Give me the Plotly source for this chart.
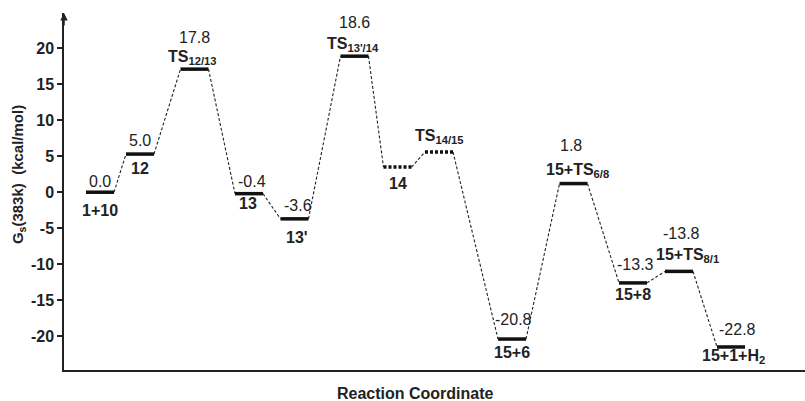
import plotly.graph_objects as go

# ---- data ----
reaction_coord = [36, 76, 130.5, 185, 230.5, 290.5, 333.5, 375, 448, 509.5, 569, 615, 667]
energy_drawn = [0.0, 5.3, 17.1, -0.2, -3.7, 18.9, 3.5, 5.6, -20.4, 1.2, -12.6, -11.0, -21.5]
value_labels = ["0.0", "5.0", "17.8", "-0.4", "-3.6", "18.6", "", "", "-20.8", "1.8", "-13.3", "-13.8", "-22.8"]
name_labels = ["1+10", "12", "TS<sub>12/13</sub>", "13", "13'", "TS<sub>13'/14</sub>", "14",
               "TS<sub>14/15</sub>", "15+6", "15+TS<sub>6/8</sub>", "15+8", "15+TS<sub>8/1</sub>",
               "15+1+H<sub>2</sub>"]
dotted_level = [False, False, False, False, False, False, True, True, False, False, False, False, False]
y_ticks = [-20, -15, -10, -5, 0, 5, 10, 15, 20]
y_tick_text = ["-20", "-15", "-10", "-5", "0", "5", "10", "15", "20"]

# ---- styling / layout offsets (pixels) ----
half_w = 14
value_shift = [11, 14, 32, 12, 13, 34, 0, 0, 20, 38, 18, 38, 17]
name_shift = [-18, -14, 12, -10, -19, 12, -16, 15, -13, 13, -12, 16, -10]
value_dx = [0, 0, 0, 3, 3, 0, 0, 0, 1, -3, 2, 2, 6]
name_dx = [0, 0, -3, -1, 2, -2, 0, 0, 0, 4, 0, 8, 2]

FONT = "Liberation Sans, Arial, sans-serif"
fig = go.Figure()

# connectors
cx, cy = [], []
for i in range(len(reaction_coord) - 1):
    cx += [reaction_coord[i] + half_w, reaction_coord[i + 1] - half_w, None]
    cy += [energy_drawn[i], energy_drawn[i + 1], None]
fig.add_trace(go.Scatter(x=cx, y=cy, mode="lines",
                         line=dict(color="#222", width=1.1, dash="3px,2px"),
                         hoverinfo="skip", showlegend=False))

# levels
for i, (xc, e) in enumerate(zip(reaction_coord, energy_drawn)):
    fig.add_trace(go.Scatter(x=[xc - half_w, xc + half_w], y=[e, e], mode="lines",
                             line=dict(color="#111", width=3.5,
                                       dash="3px,2px" if dotted_level[i] else "solid"),
                             hoverinfo="skip", showlegend=False))

ann = []
for i, (xc, e) in enumerate(zip(reaction_coord, energy_drawn)):
    if value_labels[i]:
        ann.append(dict(x=xc, y=e, xref="x", yref="y", text=value_labels[i], showarrow=False,
                        yshift=value_shift[i], xshift=value_dx[i], yanchor="middle",
                        xanchor="center",
                        font=dict(family=FONT, size=16, color="#222")))
    ann.append(dict(x=xc, y=e, xref="x", yref="y", text="<b>" + name_labels[i] + "</b>",
                    showarrow=False, yshift=name_shift[i], xshift=name_dx[i], yanchor="middle",
                    xanchor="center",
                    font=dict(family=FONT, size=16, color="#222")))

# axis titles
ann.append(dict(x=0.475, y=0, xref="paper", yref="paper", yshift=-23, yanchor="middle",
                xanchor="center",
                text="<b>Reaction Coordinate</b>", showarrow=False,
                font=dict(family=FONT, size=16, color="#222")))
ann.append(dict(x=0, y=0.546, xref="paper", yref="paper", xshift=-46, textangle=-90,
                xanchor="center", yanchor="middle",
                text="<b>G<sub>s</sub>(383k)  (kcal/mol)</b>", showarrow=False,
                font=dict(family=FONT, size=15, color="#222")))
# arrow on y axis
ann.append(dict(x=0, y=1, xref="paper", yref="paper", ax=0, ay=14, text="", showarrow=True,
                arrowhead=2, arrowsize=1, arrowwidth=1.5, arrowcolor="#222"))

fig.update_layout(
    width=805, height=401,
    margin=dict(l=64, r=0, t=13, b=31, autoexpand=False),
    paper_bgcolor="white", plot_bgcolor="white",
    annotations=ann,
    xaxis=dict(range=[0, 741], showline=True, linecolor="#222", linewidth=1.5,
               showticklabels=False, ticks="", showgrid=False, zeroline=False),
    yaxis=dict(range=[-24.7, 24.9], showline=True, linecolor="#222", linewidth=1.5,
               tickvals=y_ticks, ticktext=y_tick_text, ticks="outside", ticklen=5,
               tickwidth=1.5, tickcolor="#222",
               tickfont=dict(family=FONT, size=16, color="#222", weight="bold"),
               showgrid=False, zeroline=False),
)

fig.write_html("out.html", config={"displayModeBar": False},
               post_script="document.body.style.margin='0px';")
